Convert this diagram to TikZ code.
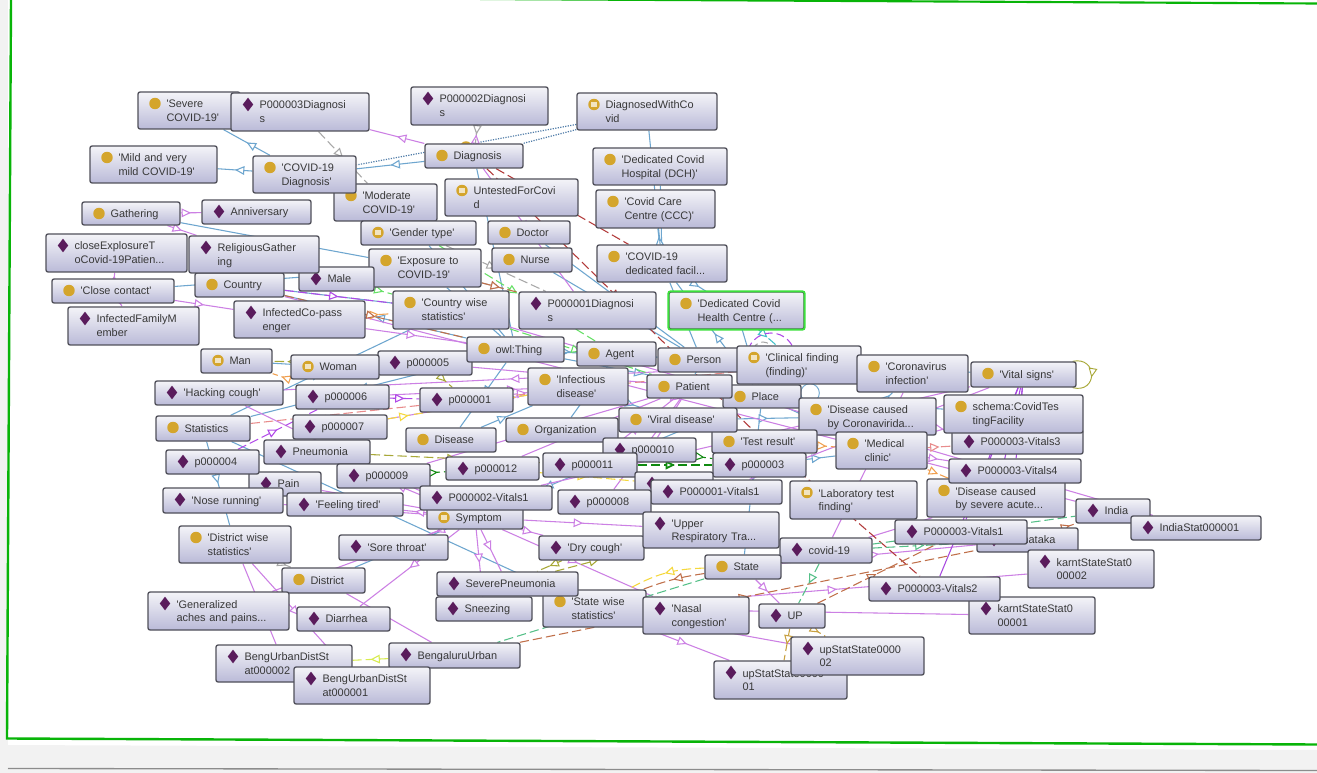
\documentclass[tikz,border=0pt]{standalone}
\usepackage{fontspec}
\setmainfont{Liberation Sans}[Ligatures=TeXOff]
\usetikzlibrary{arrows.meta}
\usetikzlibrary{backgrounds}
\usetikzlibrary{decorations.markings}
\usetikzlibrary{shapes.geometric}

\definecolor{framegreen}{HTML}{08B408}
\definecolor{focusgreen}{HTML}{3CE03C}
\definecolor{panelgrey}{HTML}{F2F2F2}
\definecolor{boxtop}{HTML}{F4F4F8}
\definecolor{boxbottom}{HTML}{BABAD8}
\definecolor{boxline}{HTML}{50505A}
\definecolor{subblue}{HTML}{6EA6CF}
\definecolor{instpurple}{HTML}{CC80E4}
\definecolor{vitalpurple}{HTML}{A848E0}
\definecolor{dotblue}{HTML}{4F7CA8}
\definecolor{propred}{HTML}{B23A3A}
\definecolor{propsalmon}{HTML}{E88C8C}
\definecolor{propbrown}{HTML}{C0704A}
\definecolor{propgrey}{HTML}{A8A8A8}
\definecolor{proplime}{HTML}{66E066}
\definecolor{propsea}{HTML}{55C088}
\definecolor{propdark}{HTML}{108A10}
\definecolor{propolive}{HTML}{A8A838}
\definecolor{proporange}{HTML}{F0A050}
\definecolor{propyellow}{HTML}{F5D83C}
\definecolor{propgold}{HTML}{C8A040}
\definecolor{propteal}{HTML}{40C0C8}
\definecolor{propmauve}{HTML}{B048E8}
\definecolor{proplemon}{HTML}{D8EC50}
\definecolor{iconplum}{HTML}{5A1C5C}
\definecolor{icongold}{HTML}{D4A52C}

\tikzset{
  entbox/.style={draw=boxline, line width=1pt, rounded corners=1.6pt,
    top color=boxtop, bottom color=boxbottom,
    inner sep=0pt, font=\fontsize{8.2}{10.4}\selectfont, text=black!78},
  focusbox/.style={draw=focusgreen, line width=1.4pt, rounded corners=1.6pt},
  classdot/.style={circle, fill=icongold, minimum size=8.6pt, inner sep=0pt},
  equivdot/.style={classdot, path picture={\fill[white!70!icongold]
      ([xshift=-2.2pt,yshift=-1.8pt]path picture bounding box.center) rectangle
      ([xshift=2.2pt,yshift=1.8pt]path picture bounding box.center);}},
  inddot/.style={diamond, fill=iconplum, minimum width=8pt, minimum height=10.4pt, inner sep=0pt, shape aspect=0.78},
  midtip/.style={postaction={decorate, decoration={markings,
      mark=at position #1 with {\arrow{Triangle[fill=white,length=7pt,width=6.5pt]}}}}},
  midtip/.default=0.5,
  subline/.style={subblue, line width=0.8pt},
  subedge/.style={subline, midtip},
  instline/.style={instpurple, line width=0.8pt},
  instedge/.style={instline, midtip},
  propline/.style={line width=0.8pt, dash pattern=on 7pt off 3pt},
  propedge/.style={propline, midtip},
  loopring/.style={circle, draw, inner sep=0pt, fill=none}
}

% name, left, top, right, bottom, icon, text
\newcommand{\ent}[7]{
  \pgfmathsetmacro{\boxw}{(#4-#2)*0.75}
  \pgfmathsetmacro{\boxh}{(#5-#3)*0.75}
  \node[entbox, text width=\boxw pt, minimum height=\boxh pt] (#1) at ({(#2+#4)/2},{(#3+#5)/2})
    {\leftskip=21.4pt\rightskip=0pt plus 1fil\hyphenpenalty=10000\relax\rule{0pt}{8pt}#7\rule[-2.1pt]{0pt}{0pt}\par};
  \node[#6] (#1icon) at ({#2+17},{#3+11.5}) {};
}

\begin{document}
\begin{tikzpicture}[x=0.75pt, y=-0.75pt]
\useasboundingbox (0,0) rectangle (1317,773);

% class hierarchy and individuals, back to front
\ent{sevcov}{138}{92}{240}{129}{classdot}{'Severe\\COVID-19'}
\ent{pthreediag}{231}{93}{369}{131}{inddot}{P000003Diagnosi\\s}
\ent{mildcov}{90}{146}{217}{183}{classdot}{'Mild and very\\mild COVID-19'}
\ent{modcov}{334}{184}{437}{221}{classdot}{'Moderate\\COVID-19'}
\ent{covdiag}{253}{156}{356}{193}{classdot}{'COVID-19\\Diagnosis'}
\ent{gender}{361}{221}{476}{245}{equivdot}{'Gender type'}
\ent{gather}{82}{202}{180}{225}{classdot}{Gathering}
\ent{anniv}{202}{200}{311}{224}{inddot}{Anniversary}
\ent{expos}{369}{249}{481}{287}{classdot}{'Exposure to\\COVID-19'}
\ent{country}{195}{273}{284}{297}{classdot}{Country}
\ent{male}{299}{267}{374}{291}{inddot}{Male}
\ent{relig}{189}{236}{319}{273}{inddot}{ReligiousGather\\ing}
\ent{closeexp}{46}{234}{187}{272}{inddot}{closeExplosureT\\oCovid-19Patien...}
\ent{closect}{52}{279}{174}{303}{classdot}{'Close contact'}
\ent{inffam}{68}{307}{199}{345}{inddot}{InfectedFamilyM\\ember}
\ent{infco}{234}{301}{365}{338}{inddot}{InfectedCo-pass\\enger}
\ent{ctrywise}{393}{291}{509}{329}{classdot}{'Country wise\\statistics'}
\ent{ptwodiag}{411}{87}{548}{125}{inddot}{P000002Diagnosi\\s}
\ent{diagwith}{577}{93}{717}{130}{equivdot}{DiagnosedWithCo\\vid}
\node[classdot] (diagnosisback) at (466,147) {};
\ent{diagnosis}{425}{144}{523}{168}{classdot}{Diagnosis}
\ent{untested}{445}{179}{578}{216}{equivdot}{UntestedForCovi\\d}
\ent{dch}{593}{148}{727}{185}{classdot}{'Dedicated Covid\\Hospital (DCH)'}
\ent{ccc}{596}{190}{715}{228}{classdot}{'Covid Care\\Centre (CCC)'}
\ent{doctor}{488}{221}{570}{244}{classdot}{Doctor}
\ent{nurse}{492}{248}{572}{272}{classdot}{Nurse}
\ent{dedfac}{597}{245}{727}{282}{classdot}{'COVID-19\\dedicated facil...}
\ent{ponediag}{519}{292}{656}{329}{inddot}{P000001Diagnosi\\s}
\ent{dchc}{669}{292}{804}{329}{classdot}{'Dedicated Covid\\Health Centre (...}
\ent{man}{201}{349}{272}{373}{equivdot}{Man}
\ent{pfive}{378}{351}{472}{375}{inddot}{p000005}
\ent{woman}{291}{355}{379}{379}{equivdot}{Woman}
\ent{owl}{467}{337}{564}{362}{classdot}{owl:Thing}
\ent{hacking}{155}{381}{283}{405}{inddot}{'Hacking cough'}
\ent{psix}{296}{385}{389}{409}{inddot}{p000006}
\ent{pone}{420}{388}{513}{412}{inddot}{p000001}
\ent{infectious}{528}{368}{628}{405}{classdot}{'Infectious\\disease'}
\ent{statistics}{156}{416}{250}{441}{classdot}{Statistics}
\ent{pseven}{293}{415}{387}{439}{inddot}{p000007}
\ent{pain}{249}{472}{321}{496}{inddot}{Pain}
\ent{pneumonia}{264}{440}{370}{464}{inddot}{Pneumonia}
\ent{disease}{406}{428}{496}{452}{classdot}{Disease}
\ent{organization}{506}{418}{618}{442}{classdot}{Organization}
\ent{pfour}{166}{450}{259}{474}{inddot}{p000004}
\ent{pnine}{337}{464}{430}{488}{inddot}{p000009}
\ent{ptwelve}{446}{457}{539}{480}{inddot}{p000012}
\ent{nose}{163}{488}{283}{513}{inddot}{'Nose running'}
\ent{feeling}{287}{493}{403}{516}{inddot}{'Feeling tired'}
\ent{symptom}{427}{506}{523}{529}{equivdot}{Symptom}
\ent{ptwovital}{420}{486}{552}{510}{inddot}{P000002-Vitals1}
\ent{agent}{577}{342}{656}{366}{classdot}{Agent}
\ent{person}{658}{348}{745}{372}{classdot}{Person}
\ent{clinical}{737}{346}{861}{384}{equivdot}{'Clinical finding\\(finding)'}
\ent{coronainf}{857}{355}{968}{392}{classdot}{'Coronavirus\\infection'}
\ent{place}{723}{385}{801}{408}{classdot}{Place}
\ent{patient}{647}{375}{732}{398}{classdot}{Patient}
\ent{coronadis}{799}{398}{936}{435}{classdot}{'Disease caused\\by Coronavirida...}
\ent{testres}{712}{430}{817}{453}{classdot}{'Test result'}
\ent{viral}{619}{408}{737}{432}{classdot}{'Viral disease'}
\ent{medclin}{836}{432}{927}{469}{classdot}{'Medical\\clinic'}
\ent{pten}{603}{438}{696}{462}{inddot}{p000010}
\ent{peleven}{543}{453}{637}{477}{inddot}{p000011}
\ent{pthree}{713}{453}{806}{477}{inddot}{p000003}
\ent{pbehind}{635}{472}{713}{497}{inddot}{}
\ent{ponevital}{651}{480}{782}{504}{inddot}{P000001-Vitals1}
\ent{labtest}{790}{481}{917}{519}{equivdot}{'Laboratory test\\finding'}
\ent{peight}{558}{490}{651}{514}{inddot}{p000008}
\ent{drycough}{539}{536}{644}{560}{inddot}{'Dry cough'}
\ent{upper}{643}{512}{779}{548}{inddot}{'Upper\\Respiratory Tra...}
\ent{covid}{780}{538}{872}{563}{inddot}{covid-19}
\ent{state}{705}{555}{781}{579}{classdot}{State}
\ent{statewise}{543}{590}{646}{627}{classdot}{'State wise\\statistics'}
\ent{nasal}{643}{597}{749}{634}{inddot}{'Nasal\\congestion'}
\ent{up}{759}{604}{825}{628}{inddot}{UP}
\ent{upone}{714}{661}{847}{699}{inddot}{upStatState0000\\01}
\ent{uptwo}{791}{637}{924}{675}{inddot}{upStatState0000\\02}
\ent{vital}{971}{362}{1076}{387}{classdot}{'Vital signs'}
\ent{pthreevthree}{952}{430}{1083}{454}{inddot}{P000003-Vitals3}
\ent{schema}{944}{395}{1083}{433}{classdot}{schema:CovidTes\\tingFacility}
\ent{severedis}{927}{479}{1065}{517}{classdot}{'Disease caused\\by severe acute...}
\ent{pthreevfour}{949}{459}{1081}{483}{inddot}{P000003-Vitals4}
\ent{india}{1076}{499}{1150}{523}{inddot}{India}
\ent{indiastat}{1131}{516}{1261}{540}{inddot}{IndiaStat000001}
\ent{karnataka}{977}{528}{1078}{552}{inddot}{Karnataka}
\ent{pthreevone}{895}{520}{1027}{544}{inddot}{P000003-Vitals1}
\ent{karntwo}{1028}{550}{1154}{588}{inddot}{karntStateStat0\\00002}
\ent{karnone}{969}{597}{1095}{634}{inddot}{karntStateStat0\\00001}
\ent{pthreevtwo}{869}{577}{1000}{601}{inddot}{P000003-Vitals2}
\ent{distwise}{179}{526}{291}{563}{classdot}{'District wise\\statistics'}
\ent{sore}{339}{535}{448}{560}{inddot}{'Sore throat'}
\ent{district}{282}{568}{365}{593}{classdot}{District}
\ent{sneezing}{436}{597}{532}{621}{inddot}{Sneezing}
\ent{severepn}{437}{572}{578}{596}{inddot}{SeverePneumonia}
\ent{general}{148}{592}{289}{630}{inddot}{'Generalized\\aches and pains...}
\ent{diarrhea}{297}{607}{390}{631}{inddot}{Diarrhea}
\ent{bengtwo}{216}{645}{352}{682}{inddot}{BengUrbanDistSt\\at000002}
\ent{bengurban}{389}{643}{520}{668}{inddot}{BengaluruUrban}
\ent{bengone}{294}{667}{430}{704}{inddot}{BengUrbanDistSt\\at000001}
\draw[focusbox] (dchc.south west) rectangle (dchc.north east);

\begin{pgfonlayer}{background}
% window frame
\fill[white] (0,0) rectangle (1317,773);
\fill[panelgrey] (0,0) rectangle (8,745);
\fill[panelgrey] (0,745) -- (1317,750) -- (1317,773) -- (0,773) -- cycle;
\draw[black!45, line width=1pt] (8,768.5) -- (1317,770.5);
\draw[framegreen, line width=1.8pt] (11,0) -- (7,738.5) -- (1317,744.5);
\draw[framegreen, line width=1.6pt] (480,-1) -- (1317,3.5);

\foreach \a/\b in {covdiag/sevcov, covdiag/mildcov, diagnosis/covdiag, expos/gather, expos/closect,
    dedfac/dch, dedfac/ccc, dedfac/dchc, person/doctor, person/nurse, person/patient, agent/person,
    agent/organization, owl/agent, owl/statistics, owl/place, owl/gender, owl/disease, owl/country,
    owl/diagnosis, place/dedfac, place/state, place/district, place/medclin, place/schema,
    statistics/ctrywise, statistics/distwise, statistics/statewise, disease/infectious,
    infectious/viral, viral/coronadis, coronadis/coronainf, clinical/vital, place/dchc, pthree/medclin}
  \draw[subedge] (\a) -- (\b);
\foreach \a/\b in {diagwith/dedfac, man/woman, owl/person, country/ctrywise, person/dedfac, owl/expos}
  \draw[subline] (\a) -- (\b);

\draw[dotblue, line width=0.9pt, densely dotted] (diagwith) -- (covdiag);
\draw[dotblue, line width=0.9pt, densely dotted] (diagwith) -- (diagnosis);

\foreach \a/\b in {diagnosis/pthreediag, diagnosis/ptwodiag, diagnosis/ponediag, gather/anniv, gather/relig,
    closect/closeexp, closect/inffam, closect/infco, symptom/hacking, symptom/pneumonia, symptom/pain,
    symptom/nose, symptom/feeling, symptom/sore, symptom/drycough, symptom/severepn, symptom/sneezing,
    symptom/general, symptom/diarrhea, symptom/upper, symptom/nasal, ctrywise/indiastat, state/up,
    state/karnataka, district/bengurban, country/india, statewise/upone, statewise/uptwo,
    statewise/karnone, statewise/karntwo, distwise/bengone, distwise/bengtwo, ptwelve/patient,
    peleven/patient, peight/patient, pnine/patient, pfive/patient, pten/patient, ptwovital/vital,
    ponevital/vital, infco/owl, coronainf/covid, severedis/covid, coronadis/pthreevthree,
    medclin/pthreevfour, clinical/hacking}
  \draw[instedge] (\a) -- (\b);
\foreach \a/\b in {psix/infectious, pseven/infectious, pone/infectious}
  \draw[instline, midtip=0.92] (\a) -- (\b);
\foreach \a/\b in {vital/pthreevthree, vital/pthreevfour, vital/pthreevone, vital/pthreevtwo, vital/severedis}
  \draw[instedge, vitalpurple] (\a) -- (\b);

% object properties
\foreach \a/\b in {diagnosis/testres, diagnosis/dedfac, testres/pthreevtwo}
  \draw[propedge, propred] (\a) -- (\b);
\foreach \a/\b in {statistics/clinical, medclin/pthreevthree}
  \draw[propedge, propsalmon] (\a) -- (\b);
\foreach \a/\b in {pthreediag/modcov, ptwodiag/diagnosis, gender/ponediag, expos/ponediag, distwise/district}
  \draw[propedge, propgrey] (\a) -- (\b);
\foreach \a/\b in {male/ctrywise, gender/agent, ctrywise/patient}
  \draw[propedge, proplime] (\a) -- (\b);
\foreach \a/\b in {covid/up, covid/india, covid/karnataka, state/bengurban}
  \draw[propedge, propsea] (\a) -- (\b);
\foreach \a/\b in {pnine/ptwelve, pten/pthree}
  \draw[propedge, propdark] (\a) -- (\b);
\draw[propedge, propdark, line width=1.3pt] (peleven) -- (pthree);
\draw[propline, propolive, midtip=0.86] (pfive) -- (man);
\foreach \a/\b in {pneumonia/peleven, drycough/severepn, pfive/pone, severepn/upper}
  \draw[propedge, propolive] (\a) -- (\b);
\draw[propedge, proporange] (woman.south west) -- (man.south east);
\foreach \a/\b in {infco/ctrywise, peleven/pten, testres/medclin, medclin/severedis}
  \draw[propedge, proporange] (\a) -- (\b);
\draw[propline, propyellow, midtip=0.15] (pseven) -- (infectious);
\draw[propedge, propyellow] (ptwelve) -- (pbehind);
\draw[propedge, propyellow] (state) to[bend right=14] (statewise);
\draw[propedge, propbrown] (state) to[bend right=6] (statewise);
\foreach \a/\b in {bengurban/karnataka, karnataka/india, up/pthreevone, expos/ponediag, country/owl}
  \draw[propedge, propbrown] (\a) -- (\b);
\foreach \a/\b in {up/upone, up/uptwo}
  \draw[propedge, propgold] (\a) -- (\b);
\foreach \a/\b in {bengurban/bengtwo, bengurban/bengone}
  \draw[propedge, proplemon] (\a) -- (\b);
\foreach \a/\b in {pfour/psix, psix/pone, country/ctrywise}
  \draw[propedge, propmauve] (\a) -- (\b);
\draw[propedge, propteal] (dchc) -- (clinical);

% self loops
\node[loopring, subblue, line width=0.7pt, minimum size=14pt] (placeloop) at (810,393) {};
\node[loopring, propmauve, line width=0.8pt, dash pattern=on 6pt off 3pt, minimum size=36pt] (clinicalloop) at (771,357) {};
\node[loopring, propgrey, line width=0.8pt, dash pattern=on 5pt off 3pt, minimum size=15pt] (personloop) at (763,352) {};
\draw[propolive, line width=0.7pt, midtip=0.55] (vital.15) .. controls (1098,356) and (1098,394) .. (vital.-15);
\end{pgfonlayer}
\end{tikzpicture}
\end{document}
